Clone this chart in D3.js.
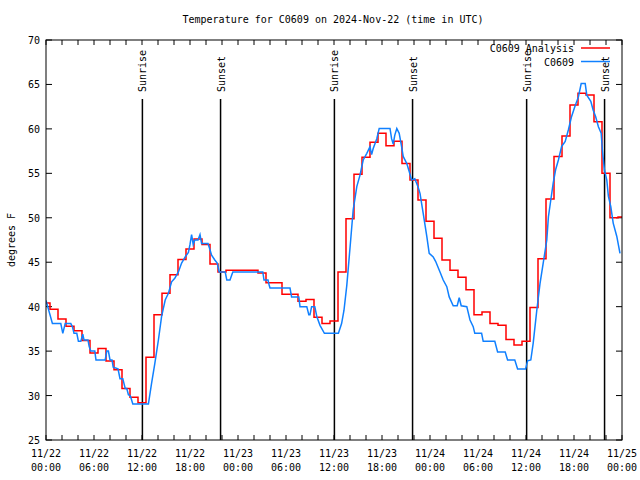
<!DOCTYPE html>
<html><head><meta charset="utf-8">
<script src="https://cdn.jsdelivr.net/npm/d3@7"></script>
<style>body{margin:0;background:#fff}svg{display:block}text{font-family:"DejaVu Sans Mono",monospace;font-size:10px;fill:#000}</style>
</head><body>
<script>
// ---- data ----
const titleText = "Temperature for C0609 on 2024-Nov-22 (time in UTC)";
const yLabel = "degrees F";
const xTickHours = [0,6,12,18,24,30,36,42,48,54,60,66,72];
const xTickDates = ["11/22","11/22","11/22","11/22","11/23","11/23","11/23","11/23","11/24","11/24","11/24","11/24","11/25"];
const xTickTimes = ["00:00","06:00","12:00","18:00","00:00","06:00","12:00","18:00","00:00","06:00","12:00","18:00","00:00"];
const yTicks = [25,30,35,40,45,50,55,60,65,70];
const eventHours = [12.05, 21.82, 36.05, 45.82, 60.08, 69.82];
const eventLabels = ["Sunrise","Sunset","Sunrise","Sunset","Sunrise","Sunset"];
const seriesNames = ["C0609 Analysis","C0609"];
// analysis (hourly, hours since 11/22 00:00 UTC)
const analysisHours = [0,1,2,3,4,5,6,7,8,9,10,11,12,13,14,15,16,17,18,19,20,21,22,23,24,25,26,27,28,29,30,31,32,33,34,35,36,37,38,39,40,41,42,43,44,45,46,47,48,49,50,51,52,53,54,55,56,57,58,59,60,61,62,63,64,65,66,67,68,69,70,71,72];
const analysisValues = [40.4,39.7,38.6,37.8,37.3,36.2,34.8,35.3,33.9,32.9,30.8,29.8,29.2,34.3,39.1,41.5,43.6,45.3,46.5,47.6,47.0,44.8,43.9,44.1,
  44.1,44.1,44.1,43.8,42.7,42.7,41.4,41.4,40.6,40.8,38.8,38.1,38.4,43.9,49.9,54.9,56.8,58.5,59.5,58.1,58.6,56.1,54.25,52.0,
  49.6,47.7,45.25,44.1,43.3,41.9,39.1,39.4,38.1,37.9,36.3,35.7,36.1,39.9,45.4,52.1,56.9,59.2,62.7,64.0,63.8,60.8,55.0,50.0,50.1];
// observations
const obsHours = [0,0.8,1.85,2.1,2.4,3.1,3.3,3.5,3.85,4.05,4.35,4.6,4.75,5.25,5.4,5.6,6.1,6.25,7.4,7.6,7.8,8.0,8.25,8.4,9.0,9.25,9.6,9.9,10.1,10.3,10.5,10.6,10.85,12.8,
  13.2,13.6,14.05,14.45,14.9,15.3,15.7,16.1,16.55,16.95,17.4,17.8,18.0,18.2,18.4,18.6,19.0,19.25,19.45,20.25,20.5,20.7,21.1,21.4,21.65,22.4,22.6,23.0,23.35,
  27.1,27.25,27.75,27.9,28.0,30.5,30.7,31.6,31.75,32.6,32.85,33.0,33.2,33.6,33.85,34.25,34.8,36.55,36.95,37.25,37.6,38.0,38.4,38.85,39.25,39.65,40.1,40.5,40.7,40.9,41.35,41.65,
  43.0,43.2,43.4,43.6,43.85,44.15,44.45,44.65,45.1,45.4,45.7,46.1,46.5,46.75,47.15,47.6,47.9,48.4,48.7,49.25,49.65,50.1,50.4,50.9,51.4,51.65,51.9,52.6,53.0,53.4,53.6,
  54.45,54.65,56.1,56.45,57.4,57.7,58.6,58.95,59.95,60.2,60.6,60.9,61.35,61.75,62.15,62.6,62.8,63.1,63.4,63.7,64.05,64.45,64.9,65.3,65.7,66.1,66.55,66.9,67.4,67.6,68.1,68.4,68.7,69.05,69.4,69.55,69.8,70.1,70.3,70.6,70.9,71.35,71.75];
const obsValues = [40.7,38.1,38.1,37.0,38.1,38.1,37.75,37.0,37.0,36.1,36.1,36.9,36.25,36.25,35.5,35.0,35.0,34.0,34.0,35.0,35.0,34.0,34.0,33.2,33.0,31.9,31.9,30.8,30.8,30.1,30.0,29.8,29.05,29.05,
  31.4,33.6,36.25,38.9,40.75,41.5,42.8,43.2,43.9,44.9,45.6,46.1,47.0,48.1,47.0,47.5,47.5,48.1,47.1,47.1,46.4,45.8,45.25,44.9,43.9,43.9,43.0,43.0,43.9,
  43.9,43.0,43.0,42.4,42.1,42.1,41.1,41.1,40.0,40.0,39.1,39.1,40.0,40.0,38.9,37.9,37.0,37.0,38.1,39.6,42.4,46.6,50.9,53.5,54.8,56.5,57.25,58.0,57.1,57.8,58.9,60.05,
  60.05,58.9,58.3,59.3,60.05,59.5,58.0,56.9,56.1,55.2,54.25,54.4,53.5,52.75,50.5,47.9,46.0,45.6,45.1,43.9,43.0,42.25,41.1,40.1,40.1,41.0,40.1,40.0,38.5,37.75,37.0,
  37.0,36.1,36.1,34.9,34.9,34.0,34.0,33.0,33.0,33.9,34.0,35.9,39.6,42.6,44.9,47.5,50.1,52.0,53.9,55.4,56.5,58.0,58.6,59.9,61.4,62.5,63.6,65.1,65.1,63.8,63.1,62.1,61.4,60.25,59.5,57.6,55.4,54.25,52.4,51.25,49.4,47.9,46.0];

// ---- layout ----
const W = 640, H = 480;
const m = {l:46, r:18, t:40, b:40};
const svg = d3.select("body").append("svg").attr("width", W).attr("height", H);
const x = d3.scaleLinear().domain([0,72]).range([m.l, W - m.r]);
const y = d3.scaleLinear().domain([25,70]).range([H - m.b, m.t]);
const red = "#ff0000", blue = "#1080ff";

// title
svg.append("text").attr("x", 333).attr("y", 23).attr("text-anchor","middle").text(titleText);
// y label
svg.append("text").attr("transform","translate(15,240) rotate(-90)").attr("text-anchor","middle").text(yLabel);

// axes ticks
const minor = d3.range(0, 73, 2);
const gAx = svg.append("g").attr("stroke","#000").attr("stroke-width",1);
minor.forEach(h => {
  const len = 5;
  gAx.append("line").attr("x1", x(h)).attr("x2", x(h)).attr("y1", y(25)).attr("y2", y(25) - len);
  gAx.append("line").attr("x1", x(h)).attr("x2", x(h)).attr("y1", y(70)).attr("y2", y(70) + len);
});
yTicks.forEach(v => {
  gAx.append("line").attr("x1", x(0)).attr("x2", x(0) + 6).attr("y1", y(v)).attr("y2", y(v));
  gAx.append("line").attr("x1", x(72)).attr("x2", x(72) - 6).attr("y1", y(v)).attr("y2", y(v));
});
// tick labels
yTicks.forEach(v => {
  svg.append("text").attr("x", x(0) - 6).attr("y", y(v) + 4).attr("text-anchor","end").text(v);
});
xTickHours.forEach((h,i) => {
  svg.append("text").attr("x", x(h)).attr("y", 457).attr("text-anchor","middle").text(xTickDates[i]);
  svg.append("text").attr("x", x(h)).attr("y", 471).attr("text-anchor","middle").text(xTickTimes[i]);
});

// event lines
eventHours.forEach((h,i) => {
  svg.append("line").attr("x1", x(h)).attr("x2", x(h)).attr("y1", 99).attr("y2", y(25))
    .attr("stroke","#000").attr("stroke-width",1.5);
  svg.append("text").attr("transform", `translate(${x(h)+4},92) rotate(-90)`).attr("text-anchor","start").text(eventLabels[i]);
});

// series
const clip = svg.append("clipPath").attr("id","pc").append("rect")
  .attr("x", m.l).attr("y", m.t).attr("width", W - m.l - m.r).attr("height", H - m.t - m.b);
const lineA = d3.line().x(d => x(d[0])).y(d => y(d[1])).curve(d3.curveStep);
const lineO = d3.line().x(d => x(d[0])).y(d => y(d[1]));
svg.append("path").attr("clip-path","url(#pc)")
  .attr("d", lineA(analysisHours.map((h,i)=>[h, analysisValues[i]])))
  .attr("fill","none").attr("stroke", red).attr("stroke-width",1.5);
svg.append("path").attr("clip-path","url(#pc)")
  .attr("d", lineO(obsHours.map((h,i)=>[h, obsValues[i]])))
  .attr("fill","none").attr("stroke", blue).attr("stroke-width",1.5);

// frame
svg.append("rect").attr("x", m.l).attr("y", m.t).attr("width", W - m.l - m.r).attr("height", H - m.t - m.b)
  .attr("fill","none").attr("stroke","#000").attr("stroke-width",1);

// legend
[red, blue].forEach((c,i) => {
  const ly = 48 + i * 13.5;
  svg.append("text").attr("x", 574).attr("y", ly + 4).attr("text-anchor","end").text(seriesNames[i]);
  svg.append("line").attr("x1", 581).attr("x2", 610).attr("y1", ly).attr("y2", ly)
    .attr("stroke", c).attr("stroke-width",1.5);
});
</script>
</body></html>
